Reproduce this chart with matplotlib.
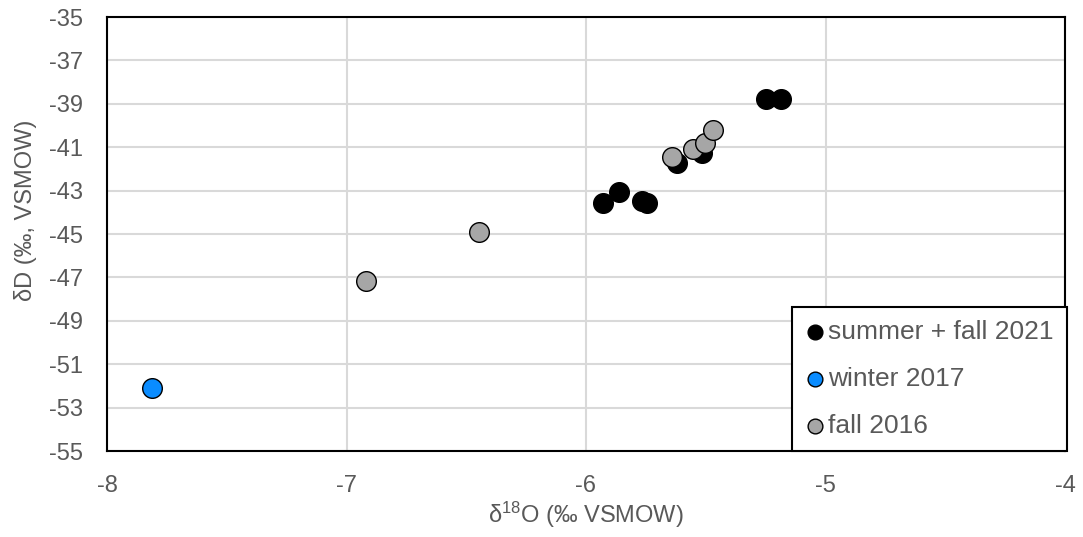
import matplotlib
matplotlib.use("Agg")
import matplotlib.pyplot as plt

plt.rcParams['font.family'] = ['Liberation Sans', 'DejaVu Sans']
plt.rcParams['mathtext.fontset'] = 'custom'
plt.rcParams['mathtext.rm'] = 'Liberation Sans'
plt.rcParams['mathtext.it'] = 'Liberation Sans:italic'
plt.rcParams['axes.unicode_minus'] = False

# Data
s2021_x = [-5.248, -5.186, -5.928, -5.861, -5.767, -5.747, -5.622, -5.517]
s2021_y = [-38.79, -38.79, -43.59, -43.05, -43.47, -43.59, -41.74, -41.25]
w2017_x = [-7.813]
w2017_y = [-52.11]
f2016_x = [-6.919, -6.447, -5.640, -5.552, -5.503, -5.468]
f2016_y = [-47.17, -44.89, -41.44, -41.10, -40.82, -40.21]

labels = ["summer + fall 2021", "winter 2017", "fall 2016"]
colors = ["#000000", "#0A8CFF", "#A6A6A6"]

xticks = [-8, -7, -6, -5, -4]
yticks = list(range(-55, -34, 2))

W, H = 1083, 537
L, R, T, B = 107, 1065, 17, 451
fig = plt.figure(figsize=(W/100, H/100), dpi=100)
ax = fig.add_axes([L/W, 1-B/H, (R-L)/W, (B-T)/H])

ms = 200
for xs, ys, c, lab in zip([s2021_x, w2017_x, f2016_x], [s2021_y, w2017_y, f2016_y], colors, labels):
    ax.scatter(xs, ys, s=ms, c=c, edgecolors='black', linewidths=1.0, label=lab, zorder=3)

ax.set_xlim(-8, -4)
ax.set_ylim(-55, -35)
ax.set_xticks(xticks)
ax.set_yticks(yticks)
ax.grid(True, color='#D9D9D9', linewidth=1.5, zorder=0)
ax.set_axisbelow(True)
for sp in ax.spines.values():
    sp.set_color('black')
    sp.set_linewidth(1.5)
ax.tick_params(axis='both', length=0, labelsize=17, labelcolor='#595959')
ax.tick_params(axis='y', pad=17)
ax.tick_params(axis='x', pad=17)

ax.set_xlabel(r"δ$^{18}$O (‰ VSMOW)", fontsize=17, color='#595959', labelpad=2)
ax.set_ylabel("δD (‰, VSMOW)", fontsize=17, color='#595959')
ax.yaxis.set_label_coords((37 - L) / (R - L), (B - 210) / (B - T))

leg = ax.legend(loc='lower right', bbox_to_anchor=(1.002, 0.0), borderaxespad=0, fontsize=19,
                markerscale=0.75, frameon=True, fancybox=False, edgecolor='black', framealpha=1,
                handletextpad=0.125, handlelength=0.74, borderpad=0.5, labelspacing=0.86)
leg.get_frame().set_linewidth(1.5)
for t in leg.get_texts():
    t.set_color('#595959')

fig.savefig("out.png", dpi=100)
